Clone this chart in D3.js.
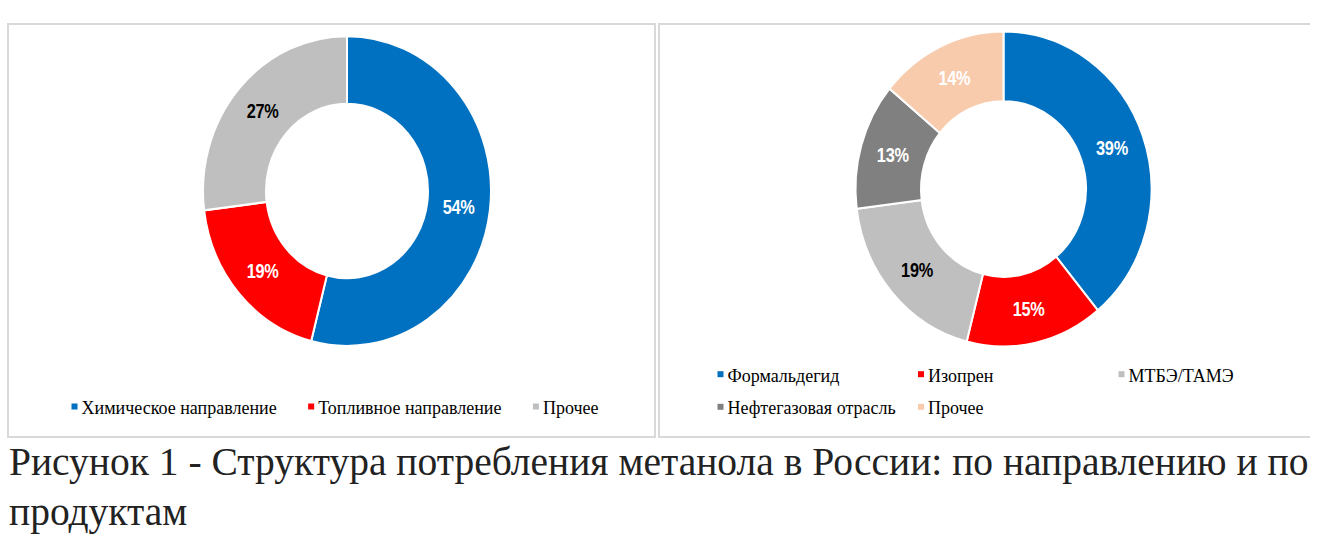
<!DOCTYPE html>
<html>
<head>
<meta charset="utf-8">
<script src="https://cdn.jsdelivr.net/npm/d3@7"></script>
<style>
  body { margin: 0; background: #fff; }
  svg { display: block; }
  .serif { font-family: "Liberation Serif", "Times New Roman", serif; }
  .lbl { font-family: "Liberation Sans", Arial, sans-serif; font-weight: bold; }
</style>
</head>
<body>
<script>
// Data
var directions = ["Химическое направление", "Топливное направление", "Прочее"];
var directionShares = [54, 19, 27];
var products = ["Формальдегид", "Изопрен", "МТБЭ/ТАМЭ", "Нефтегазовая отрасль", "Прочее"];
var productShares = [39, 15, 19, 13, 14];
var caption = ["Рисунок 1 - Структура потребления метанола в России: по направлению и по",
               "продуктам"];

// Colours
var directionColors = ["#0070C0", "#FF0000", "#BFBFBF"];
var productColors = ["#0070C0", "#FF0000", "#BFBFBF", "#808080", "#F8CBAD"];
var darkLabelOn = ["#BFBFBF"];

var width = 1338, height = 549;

var svg = d3.select("body").append("svg")
	.attr("width", width)
	.attr("height", height);

svg.append("rect").attr("width", width).attr("height", height).attr("fill", "#fff");

// Panel frames
svg.append("rect")
	.attr("x", 8).attr("y", 24)
	.attr("width", 647).attr("height", 413)
	.attr("fill", "none")
	.attr("stroke", "#d9d9d9")
	.attr("stroke-width", 2);
svg.append("path")
	.attr("d", "M1310,24H659V437H1310")
	.attr("fill", "none")
	.attr("stroke", "#d9d9d9")
	.attr("stroke-width", 2);

// Draw one donut (slightly stretched vertically, like the picture)
function donut(names, values, colors, cx, cy, rOuter, rInner, sy){
	var color = d3.scaleOrdinal().domain(names).range(colors);
	var pie = d3.pie().sort(null).value(function(d){ return d.value; });
	var arc = d3.arc().innerRadius(rInner).outerRadius(rOuter);
	var data = names.map(function(n, i){ return {name: n, value: values[i]}; });

	var g = svg.append("g")
		.attr("transform", "translate(" + cx + "," + cy + ") scale(1," + sy + ")");

	var slices = g.selectAll("g.slice").data(pie(data)).enter().append("g").attr("class", "slice");

	slices.append("path")
		.attr("d", arc)
		.attr("fill", function(d){ return color(d.data.name); })
		.attr("stroke", "#fff")
		.attr("stroke-width", 2);

	// percent labels, narrowed to look like Arial Narrow
	slices.append("text")
		.attr("class", "lbl")
		.attr("transform", function(d){ return "translate(" + arc.centroid(d) + ") scale(0.86,1)"; })
		.attr("text-anchor", "middle")
		.attr("dy", "0.36em")
		.attr("font-size", 19)
		.attr("letter-spacing", -0.3)
		.attr("fill", function(d){ return darkLabelOn.indexOf(color(d.data.name)) >= 0 ? "#000" : "#fff"; })
		.text(function(d){ return d.data.value + "%"; });

	return color;
}

var leftColor = donut(directions, directionShares, directionColors, 347, 191, 144, 81, 1.076);
var rightColor = donut(products, productShares, productColors, 1003.5, 189, 148, 82.5, 1.064);

// Legend item
function legendItem(g, name, color, x, y){
	g.append("rect")
		.attr("x", x).attr("y", y - 10.5)
		.attr("width", 6).attr("height", 6)
		.attr("fill", color(name));
	return g.append("text")
		.attr("class", "serif")
		.attr("x", x + 10).attr("y", y)
		.attr("font-size", 18)
		.attr("fill", "#000")
		.text(name);
}

// Left legend: one row, items follow each other
var legL = svg.append("g");
var lx = 71.5;
directions.forEach(function(n){
	var t = legendItem(legL, n, leftColor, lx, 414);
	lx += 10 + t.node().getComputedTextLength() + 31.5;
});

// Right legend: three columns grid
var legR = svg.append("g");
products.forEach(function(n, i){
	legendItem(legR, n, rightColor, 717.5 + (i % 3) * 200.5, 381.7 + Math.floor(i / 3) * 32.6);
});

// Caption
svg.selectAll("text.caption").data(caption).enter().append("text")
	.attr("class", "caption serif")
	.attr("x", 9)
	.attr("y", function(d, i){ return 475 + i * 50; })
	.attr("font-size", 39.5)
	.attr("fill", "#222")
	.text(function(d){ return d; });
</script>
</body>
</html>
